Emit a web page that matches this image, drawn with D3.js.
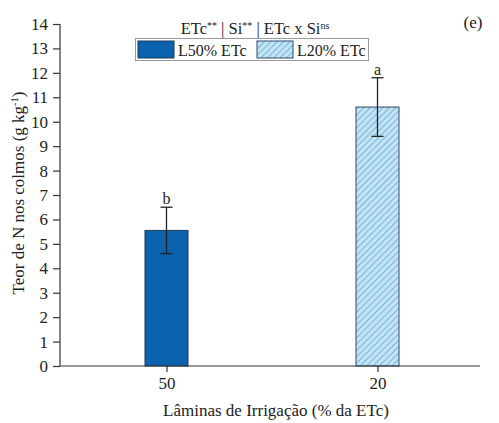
<!DOCTYPE html>
<html>
<head>
<meta charset="utf-8">
<script src="https://cdn.jsdelivr.net/npm/d3@7"></script>
<style>
  body { margin: 0; background: #fff; }
  text { font-family: "Liberation Serif", "Times New Roman", serif; fill: #222; }
</style>
</head>
<body>
<svg id="chart" width="499" height="423"></svg>
<script>
// Nitrogen content in stalks by irrigation depth
const categories = ["50", "20"];
const seriesNames = ["L50% ETc", "L20% ETc"];
const means = [5.55, 10.6];
const errors = [0.95, 1.2];
const letters = ["b", "a"];
const yTicks = d3.range(0, 15);

const svg = d3.select("#chart");
const x0 = 61, x1 = 483, yTop = 24, yBottom = 366;

const x = d3.scalePoint().domain(categories).range([x0, x1]).padding(0.5);
const y = d3.scaleLinear().domain([0, 14]).range([yBottom, yTop]);
const barW = 43;

// hatch pattern for the 20% series
const defs = svg.append("defs");
const pat = defs.append("pattern")
  .attr("id", "hatch").attr("patternUnits", "userSpaceOnUse")
  .attr("width", 4.5).attr("height", 4.5)
  .attr("patternTransform", "rotate(45)");
pat.append("rect").attr("width", 4.5).attr("height", 4.5).attr("fill", "#bfe4f6");
pat.append("line").attr("x1", 0).attr("y1", 0).attr("x2", 0).attr("y2", 4.5)
  .attr("stroke", "#4f88b4").attr("stroke-width", 1.1);

const fills = ["#0b63ad", "url(#hatch)"];
const strokes = ["#1d3c5c", "#2c4a66"];

// bars
svg.selectAll("rect.bar").data(categories).join("rect")
  .attr("class", "bar")
  .attr("x", (d) => x(d) - barW / 2)
  .attr("y", (d, i) => y(means[i]))
  .attr("width", barW)
  .attr("height", (d, i) => y(0) - y(means[i]))
  .attr("fill", (d, i) => fills[i])
  .attr("stroke", (d, i) => strokes[i])
  .attr("stroke-width", 1);

// error bars with significance letters
const eb = svg.append("g").attr("stroke", "#222").attr("stroke-width", 1.3);
categories.forEach((c, i) => {
  const cx = x(c);
  eb.append("line").attr("x1", cx).attr("x2", cx)
    .attr("y1", y(means[i] - errors[i])).attr("y2", y(means[i] + errors[i]));
  [means[i] - errors[i], means[i] + errors[i]].forEach(v => {
    eb.append("line").attr("x1", cx - 6).attr("x2", cx + 6)
      .attr("y1", y(v)).attr("y2", y(v));
  });
  svg.append("text").attr("x", cx).attr("y", y(means[i] + errors[i]) - 3)
    .attr("text-anchor", "middle").attr("font-size", 16).text(letters[i]);
});

// axes
const yAxis = svg.append("g").attr("transform", `translate(${x0 - 1},0)`)
  .call(d3.axisLeft(y).tickValues(yTicks).tickSize(7).tickPadding(5));
const xAxis = svg.append("g").attr("transform", `translate(0,${yBottom})`)
  .call(d3.axisBottom(x).tickSize(6).tickPadding(5));
xAxis.select(".domain").attr("d", `M${x0 - 1},0H${x1 - 3}`);
[yAxis, xAxis].forEach(g => {
  g.attr("font-size", 17).attr("font-family", "Liberation Serif, serif");
  g.selectAll("text").attr("font-size", 17).attr("fill", "#222");
  g.selectAll("line, path").attr("stroke", "#333").attr("stroke-width", 1.2);
});
yAxis.select(".domain").attr("d", `M0,${yTop}V${yBottom}`);

// axis titles
const yt = svg.append("text")
  .attr("transform", `translate(24,${(yTop + yBottom) / 2 - 2}) rotate(-90)`)
  .attr("text-anchor", "middle").attr("font-size", 17);
yt.append("tspan").text("Teor de N nos colmos (g kg");
yt.append("tspan").attr("dy", -6).attr("font-size", 10.5).text("-1");
yt.append("tspan").attr("dy", 6).text(")");

svg.append("text").attr("x", 276).attr("y", 416).attr("text-anchor", "middle")
  .attr("font-size", 17).text("Lâminas de Irrigação (% da ETc)");

svg.append("text").attr("x", 473).attr("y", 28).attr("text-anchor", "middle")
  .attr("font-size", 17).text("(e)");

// legend title with significance superscripts
const lt = svg.append("text").attr("x", 255).attr("y", 34)
  .attr("text-anchor", "middle").attr("font-size", 16.5);
const parts = [["ETc", "**"], [" | Si", "**"], [" | ETc x Si", "ns"]];
parts.forEach(([base, sup], k) => {
  lt.append("tspan").attr("dy", k === 0 ? 0 : 5).attr("font-size", 16.5).text(base);
  lt.append("tspan").attr("dy", -5).attr("font-size", 10).text(sup);
});

// legend box
const leg = svg.append("g");
leg.append("rect").attr("x", 135.5).attr("y", 38.5).attr("width", 233).attr("height", 22)
  .attr("fill", "#fff").attr("stroke", "#999").attr("stroke-width", 1);
const legX = [138, 257];
seriesNames.forEach((s, i) => {
  leg.append("rect").attr("x", legX[i]).attr("y", 41).attr("width", 36).attr("height", 17)
    .attr("fill", fills[i]).attr("stroke", strokes[i]).attr("stroke-width", 1);
  leg.append("text").attr("x", legX[i] + 40).attr("y", 55.5).attr("font-size", 16).text(s);
});
</script>
</body>
</html>
